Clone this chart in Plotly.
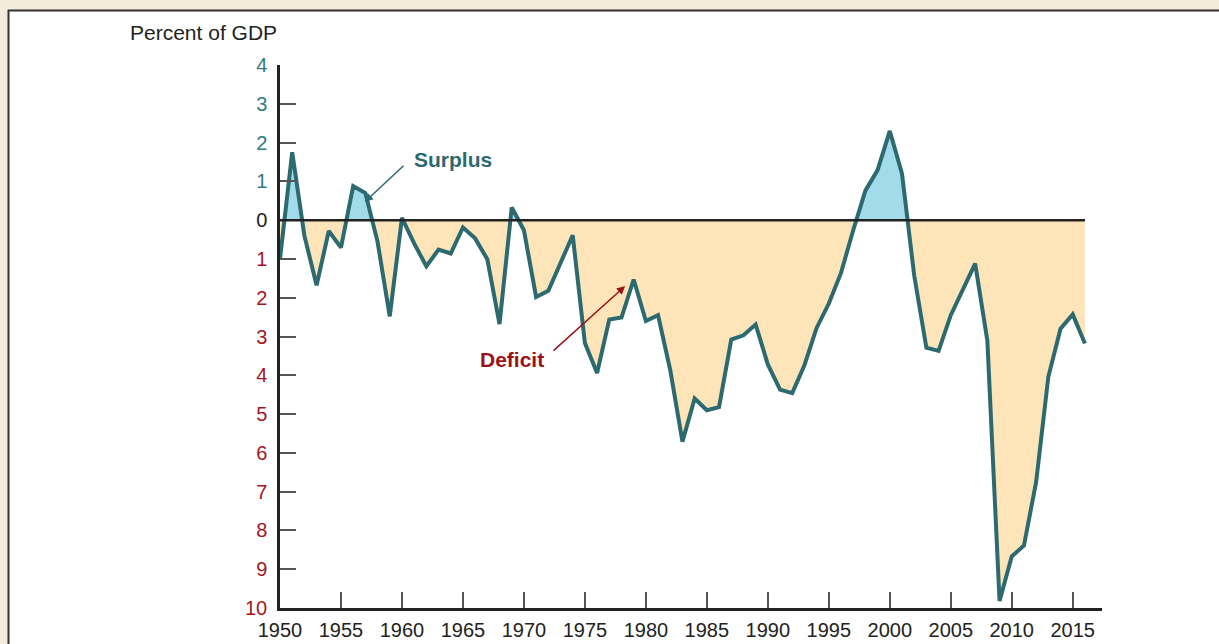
import plotly.graph_objects as go

# ---- data (percent of GDP; positive = surplus, negative = deficit) ----
years = list(range(1950, 2017))
balance = [
    -1.0, 1.75, -0.4, -1.68, -0.28, -0.71, 0.88, 0.70, -0.56, -2.48,   # 1950-59
    0.06, -0.6, -1.19, -0.76, -0.86, -0.19, -0.47, -1.01, -2.68, 0.33,  # 1960-69
    -0.26, -1.98, -1.82, -1.1, -0.39, -3.17, -3.94, -2.56, -2.51, -1.53,  # 1970-79
    -2.6, -2.45, -3.87, -5.71, -4.6, -4.9, -4.82, -3.08, -2.97, -2.69,  # 1980-89
    -3.72, -4.37, -4.46, -3.74, -2.78, -2.15, -1.36, -0.26, 0.76, 1.29,  # 1990-99
    2.30, 1.2, -1.42, -3.29, -3.37, -2.45, -1.76, -1.12, -3.11, -9.82,  # 2000-09
    -8.67, -8.39, -6.75, -4.04, -2.8, -2.43, -3.18,                      # 2010-16
]
x_ticks = list(range(1950, 2016, 5))
y_ticks = list(range(-10, 5))

TEAL = "#2d6a70"
TEAL_TXT = "#2f7b80"
RED_TXT = "#a3161f"
BLUE_FILL = "#a2dbea"
ORANGE_FILL = "#fde4b9"
BG = "#f3ebdc"


def split_sign(xs, ys):
    """Positive / negative parts with zero crossings inserted for fills."""
    px, py, nx, ny = [], [], [], []
    for i in range(len(xs)):
        if i > 0:
            y0, y1 = ys[i - 1], ys[i]
            if (y0 > 0 > y1) or (y0 < 0 < y1):
                xc = xs[i - 1] + (xs[i] - xs[i - 1]) * y0 / (y0 - y1)
                px.append(xc); py.append(0)
                nx.append(xc); ny.append(0)
        px.append(xs[i]); py.append(max(ys[i], 0))
        nx.append(xs[i]); ny.append(min(ys[i], 0))
    return px, py, nx, ny


px, py, nx, ny = split_sign(years, balance)

fig = go.Figure()
fig.add_trace(go.Scatter(x=nx, y=ny, mode="lines", fill="tozeroy",
                         fillcolor=ORANGE_FILL, line=dict(width=0),
                         hoverinfo="skip", showlegend=False))
fig.add_trace(go.Scatter(x=px, y=py, mode="lines", fill="tozeroy",
                         fillcolor=BLUE_FILL, line=dict(width=0),
                         hoverinfo="skip", showlegend=False))
fig.add_trace(go.Scatter(x=years, y=balance, mode="lines",
                         line=dict(color=TEAL, width=4, shape="linear"),
                         showlegend=False))

# zero line across the data span
fig.add_shape(type="line", xref="x", yref="y", x0=years[0], x1=years[-1],
              y0=0, y1=0, line=dict(color="#222222", width=2.5), layer="above")

# white panel with border on beige page
fig.add_shape(type="rect", xref="paper", yref="paper",
              x0=(8.5 - 280) / 822, x1=(1240 - 280) / 822,
              y0=(608 - 660) / 543, y1=(608 - 10.5) / 543,
              fillcolor="white", line=dict(color="#333333", width=2),
              layer="below")


def ytext(v):
    if v > 0:
        return f"<span style='color:{TEAL_TXT}'>{v}</span>"
    if v < 0:
        return f"<span style='color:{RED_TXT}'>{-v}</span>"
    return "<span style='color:#222222'>0</span>"


fig.update_xaxes(range=[1950, 2017.4], tickvals=x_ticks,
                 ticktext=[str(t) for t in x_ticks],
                 ticks="inside", ticklen=16, tickwidth=1.5, tickcolor="#555555",
                 showline=True, linecolor="#222222", linewidth=2.5,
                 showgrid=False, zeroline=False, automargin=False,
                 tickfont=dict(size=20, color="#222222"), ticklabelstandoff=2)
fig.update_yaxes(range=[-10, 4], tickvals=y_ticks,
                 ticktext=[ytext(v) for v in y_ticks],
                 ticks="inside", ticklen=16, tickwidth=1.5, tickcolor="#555555",
                 showline=True, linecolor="#222222", linewidth=2.5,
                 showgrid=False, zeroline=False, automargin=False,
                 tickfont=dict(size=20, color="#222222"), ticklabelstandoff=6)

# axis title
fig.add_annotation(text="Percent of GDP", xref="paper", yref="paper",
                   x=(279 - 280) / 822, y=(608 - 33) / 543,
                   xanchor="right", yanchor="middle", showarrow=False,
                   font=dict(size=21, color="#222222"))

# Surplus label + arrow
fig.add_annotation(text="<b>Surplus</b>", x=1960.8, y=1.57,
                   xref="x", yref="y", xanchor="left", yanchor="middle",
                   showarrow=False, font=dict(size=21, color=TEAL))
fig.add_annotation(text="", x=1956.95, y=0.47, ax=1960.25, ay=1.44,
                   xref="x", yref="y", axref="x", ayref="y", showarrow=True,
                   arrowhead=2, arrowsize=1.1, arrowwidth=1.5, arrowcolor=TEAL)

# Deficit label + arrow
fig.add_annotation(text="<b>Deficit</b>", x=1966.2, y=-3.59,
                   xref="x", yref="y", xanchor="left", yanchor="middle",
                   showarrow=False, font=dict(size=21, color="#9c1219"))
fig.add_annotation(text="", x=1978.3, y=-1.70, ax=1972.3, ay=-3.40,
                   xref="x", yref="y", axref="x", ayref="y", showarrow=True,
                   arrowhead=2, arrowsize=1.1, arrowwidth=1.5, arrowcolor="#9c1219")

fig.update_layout(width=1219, height=644,
                  margin=dict(l=280, r=117, t=65, b=36, autoexpand=False),
                  paper_bgcolor=BG, plot_bgcolor="white",
                  font=dict(family="Liberation Sans, Arial, sans-serif"),
                  showlegend=False)

fig.write_html("out.html",
               config={"displayModeBar": False},
               post_script="document.body.style.margin='0';"
                           "document.body.style.overflow='hidden';")
